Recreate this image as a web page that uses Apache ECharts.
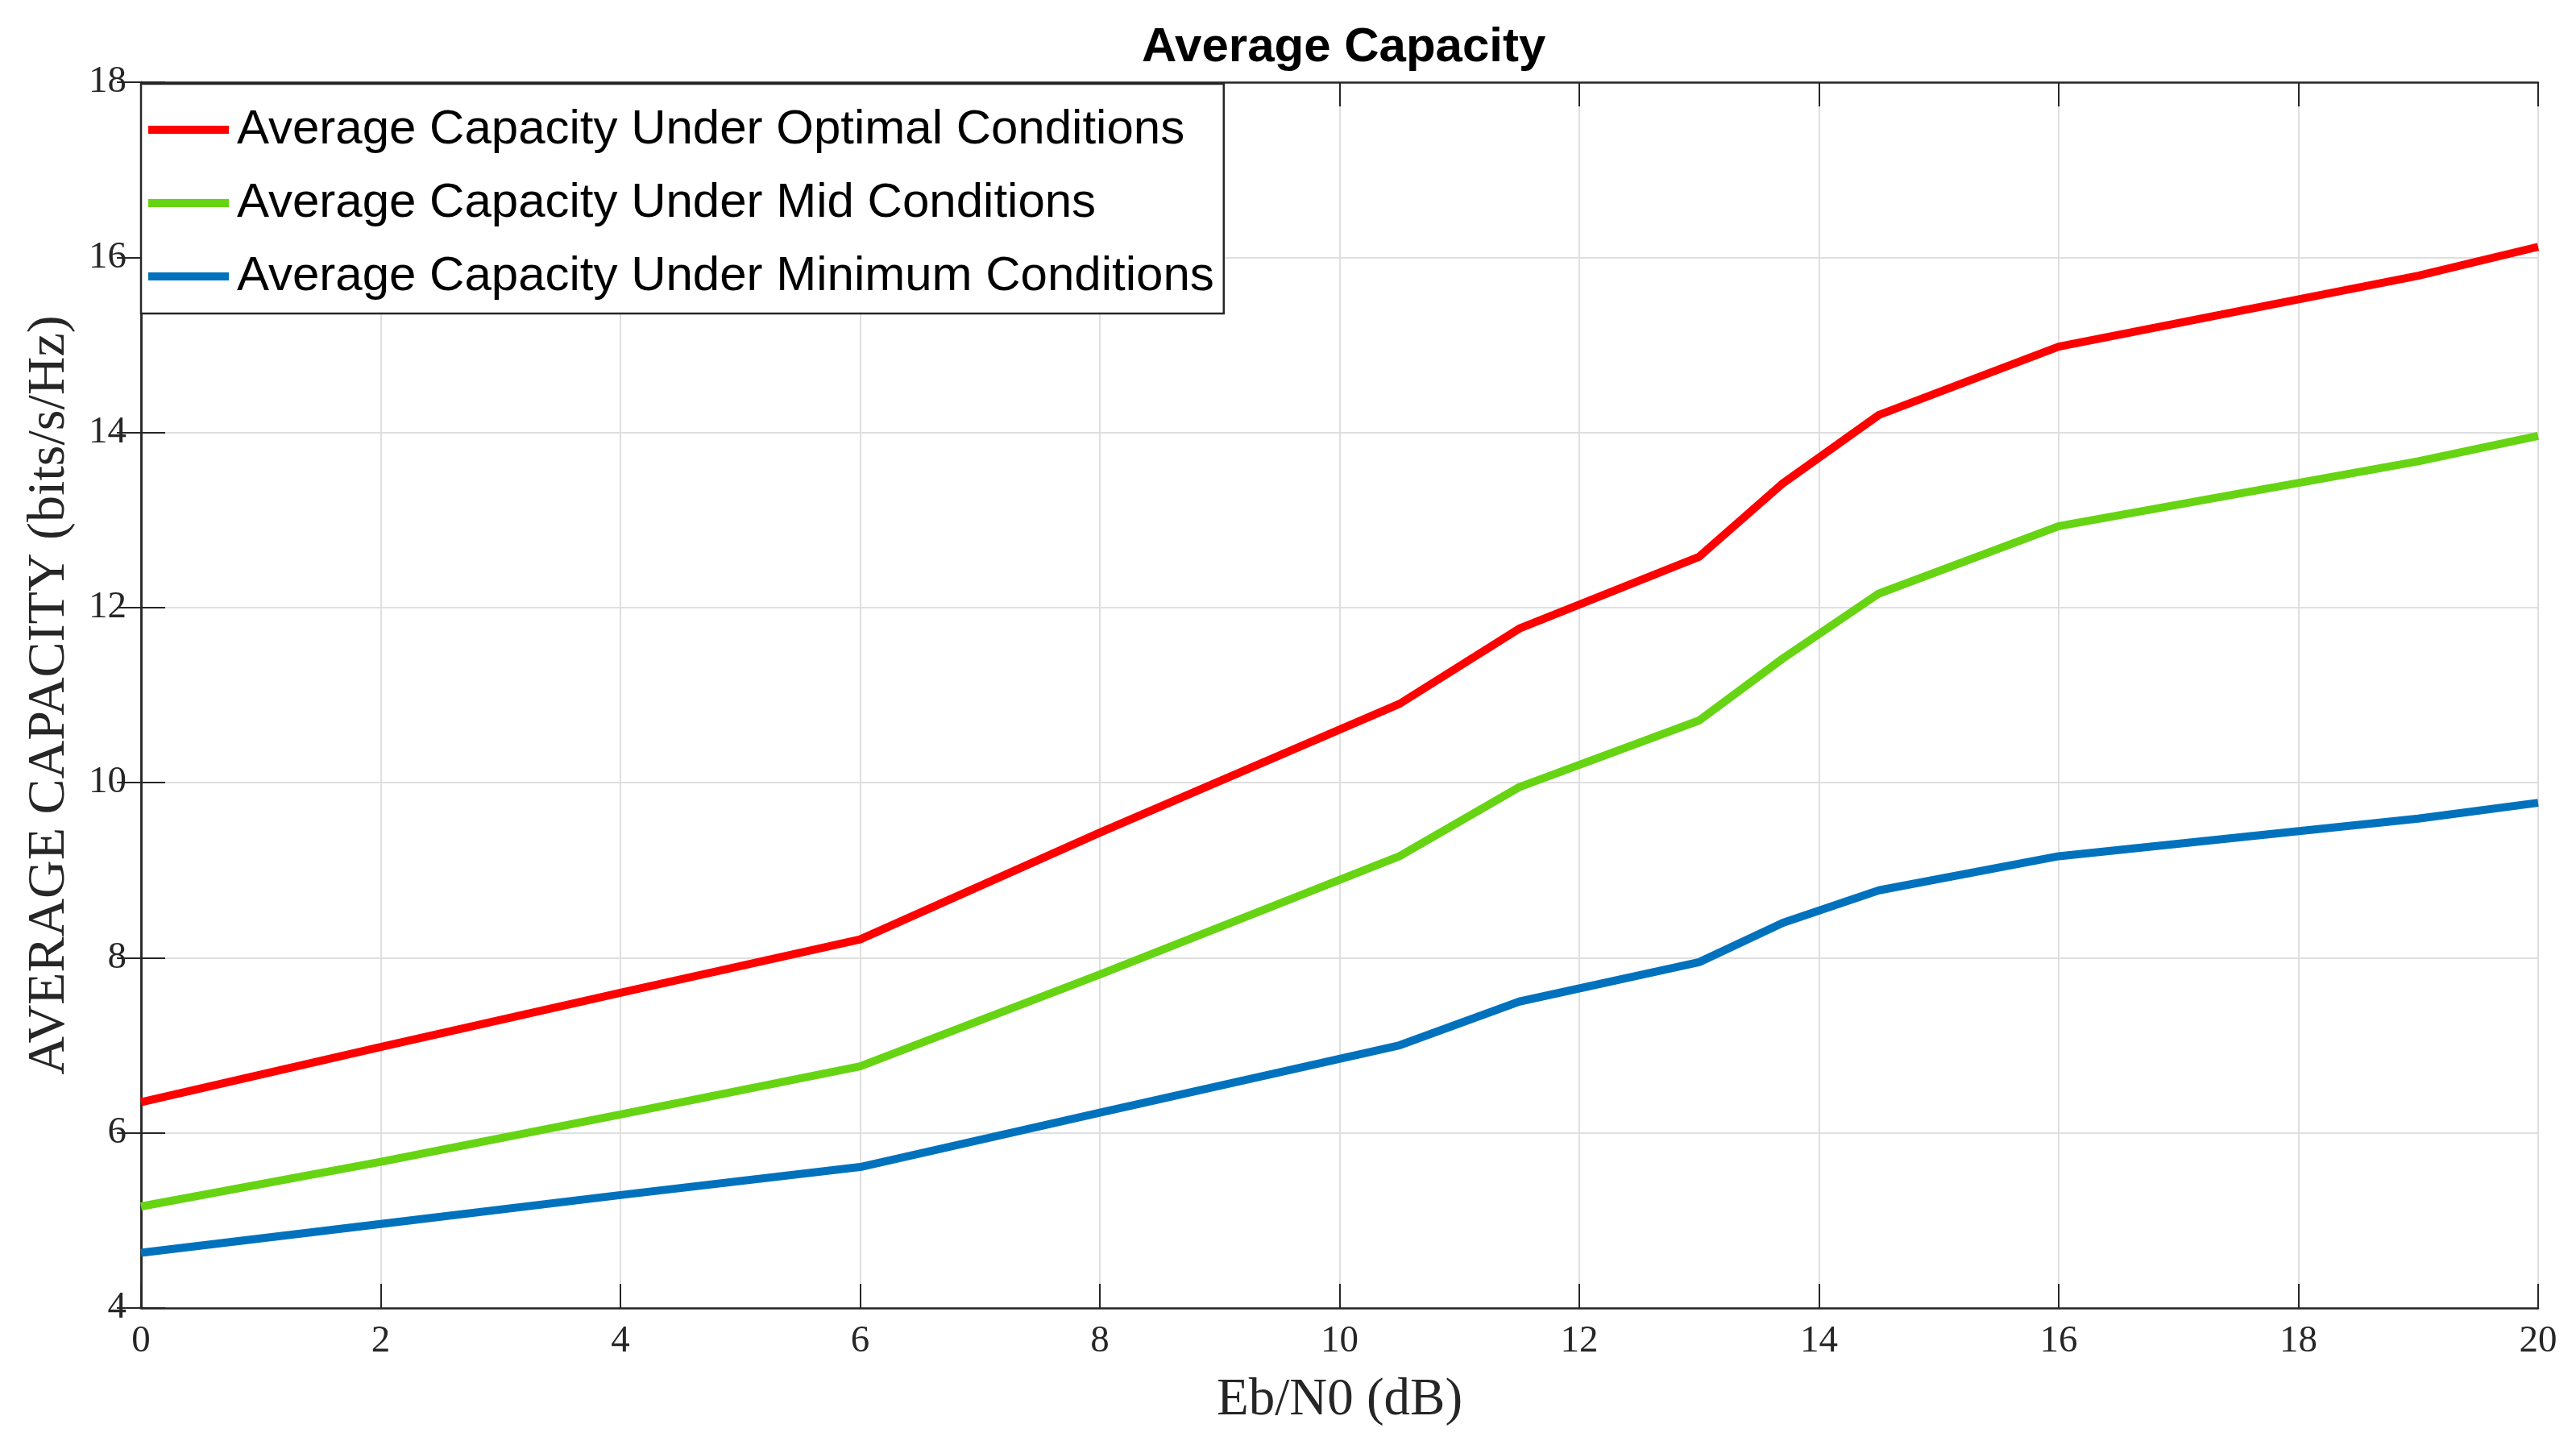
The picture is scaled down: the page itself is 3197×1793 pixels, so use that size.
<!DOCTYPE html>
<html>
<head>
<meta charset="utf-8">
<script src="https://cdn.jsdelivr.net/npm/echarts@6/dist/echarts.min.js"></script>
<style>html,body{margin:0;padding:0;background:#fff;}#c{width:3197px;height:1793px;}</style>
</head>
<body>
<div id="c"></div>
<script>
const ebN0 = [0, 2, 4, 6, 8, 10.5, 11.5, 13, 13.7, 14.5, 16, 19, 20];
const optimalCap = [6.35, 6.98, 7.60, 8.21, 9.43, 10.90, 11.76, 12.58, 13.42, 14.20, 14.98, 15.79, 16.12];
const midCap     = [5.16, 5.67, 6.21, 6.76, 7.81, 9.16, 9.95, 10.71, 11.42, 12.16, 12.93, 13.67, 13.96];
const minCap     = [4.63, 4.96, 5.29, 5.61, 6.23, 7.00, 7.50, 7.95, 8.40, 8.77, 9.16, 9.59, 9.77];
const seriesNames = ['Average Capacity Under Optimal Conditions', 'Average Capacity Under Mid Conditions', 'Average Capacity Under Minimum Conditions'];
const seriesColors = ['#FF0000', '#66D412', '#0072BD'];

const chart = echarts.init(document.getElementById('c'), null, {renderer: 'canvas'});
const axisCol = '#262626';
const serif = 'Liberation Serif';
const pair = ys => ebN0.map((x, i) => [x, ys[i]]);

const tickInside = {show: true, inside: true, length: 30, lineStyle: {color: axisCol, width: 2}};
const axLine = {show: true, lineStyle: {color: axisCol, width: 2.5}};
const grid = {show: true, lineStyle: {color: '#DFDFDF', width: 2}};

chart.setOption({
  animation: false,
  backgroundColor: '#fff',
  title: {
    text: 'Average Capacity',
    left: 1412, top: 24,
    textStyle: {fontFamily: 'Liberation Sans', fontWeight: 'bold', fontSize: 60, color: '#000'}
  },
  grid: {left: 175, right: 47, top: 102, bottom: 170, containLabel: false},
  legend: {
    orient: 'vertical', left: 175, top: 104,
    padding: [27, 12, 16, 9],
    itemGap: 31,
    itemWidth: 100, itemHeight: 10,
    icon: 'rect',
    backgroundColor: '#fff', borderColor: axisCol, borderWidth: 2.5,
    textStyle: {fontFamily: 'Liberation Sans', fontSize: 60, color: '#000', lineHeight: 60, padding: [0, 0, 0, 5]},
    data: seriesNames
  },
  xAxis: [{
    type: 'value', min: 0, max: 20, interval: 2, position: 'bottom',
    name: 'Eb/N0 (dB)', nameLocation: 'middle', nameGap: 82,
    nameTextStyle: {fontFamily: serif, fontSize: 65, color: axisCol},
    axisLine: axLine, axisTick: tickInside, splitLine: grid,
    axisLabel: {fontFamily: serif, fontSize: 47, color: axisCol, margin: 18}
  }, {
    type: 'value', min: 0, max: 20, interval: 2, position: 'top',
    axisLine: axLine, axisTick: tickInside, splitLine: {show: false}, axisLabel: {show: false}
  }],
  yAxis: [{
    type: 'value', min: 4, max: 18, interval: 2, position: 'left',
    name: 'AVERAGE CAPACITY (bits/s/Hz)', nameLocation: 'middle', nameGap: 80,
    nameTextStyle: {fontFamily: serif, fontSize: 66, color: axisCol},
    axisLine: axLine, axisTick: tickInside, splitLine: grid,
    axisLabel: {fontFamily: serif, fontSize: 47, color: axisCol, margin: 18}
  }, {
    type: 'value', min: 4, max: 18, interval: 2, position: 'right',
    axisLine: axLine, axisTick: tickInside, splitLine: {show: false}, axisLabel: {show: false}
  }],
  series: [optimalCap, midCap, minCap].map((ys, i) => ({
    name: seriesNames[i], type: 'line', data: pair(ys),
    showSymbol: false, symbol: 'none',
    color: seriesColors[i],
    lineStyle: {width: 10, color: seriesColors[i]},
    z: 3 - i
  }))
});
</script>
</body>
</html>
